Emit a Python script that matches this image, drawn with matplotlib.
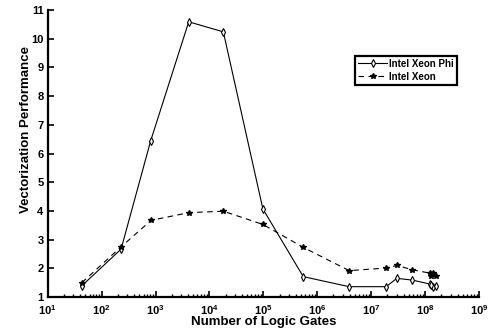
import matplotlib
matplotlib.use("Agg")
import matplotlib.pyplot as plt
from matplotlib.ticker import LogLocator, FixedLocator, NullFormatter

plt.rcParams["font.family"] = ["Liberation Sans", "DejaVu Sans"]
plt.rcParams["font.weight"] = "bold"
plt.rcParams["mathtext.fontset"] = "custom"
plt.rcParams["mathtext.rm"] = "Liberation Sans:bold"
plt.rcParams["mathtext.bf"] = "Liberation Sans:bold"
plt.rcParams["mathtext.default"] = "bf"

# Intel Xeon Phi
phi_gates = [43, 230, 815, 4130, 18100, 98000, 550000, 3.9e6, 1.89e7, 2.99e7,
             5.8e7, 1.24e8, 1.41e8, 1.3e8, 1.62e8]
phi_perf = [1.39, 2.67, 6.45, 10.59, 10.24, 4.07, 1.71, 1.36, 1.36, 1.65,
            1.59, 1.45, 1.35, 1.42, 1.38]

# Intel Xeon
xeon_gates = [43, 230, 826, 4130, 18100, 98000, 550000, 3.9e6, 1.89e7, 2.99e7,
              5.8e7, 1.24e8, 1.41e8, 1.3e8, 1.62e8]
xeon_perf = [1.50, 2.75, 3.67, 3.94, 3.99, 3.53, 2.73, 1.92, 2.01, 2.10,
             1.95, 1.83, 1.84, 1.73, 1.73]

x_ticks = [10.0 ** k for k in range(1, 10)]
y_ticks = list(range(1, 12))


def main():
    fig = plt.figure(figsize=(4.9, 3.35), dpi=100)
    ax = fig.add_axes([0.0973, 0.1134, 0.8803, 0.8566])

    ax.plot(phi_gates, phi_perf, "-", color="black", linewidth=0.8,
            marker="d", markersize=4.2, markerfacecolor="white",
            markeredgecolor="black", markeredgewidth=0.8, label="Intel Xeon Phi")
    ax.plot(xeon_gates, xeon_perf, "--", color="black", linewidth=0.8,
            marker="*", markersize=4, markerfacecolor="black",
            markeredgecolor="black", label="Intel Xeon", dashes=(5, 4))

    ax.set_xscale("log")
    ax.set_xlim(10, 1e9)
    ax.set_ylim(1, 11)
    ax.xaxis.set_major_locator(FixedLocator(x_ticks))
    ax.set_xticklabels([r"$\mathbf{10^{%d}}$" % k for k in range(1, 10)])
    ax.xaxis.set_minor_locator(LogLocator(base=10, subs=range(2, 10), numticks=20))
    ax.xaxis.set_minor_formatter(NullFormatter())
    ax.set_yticks(y_ticks)

    for side in ["top", "right"]:
        ax.spines[side].set_visible(False)
    for side in ["left", "bottom"]:
        ax.spines[side].set_linewidth(1.6)

    ax.tick_params(axis="both", which="major", direction="in", length=4,
                   width=1.2, labelsize=8, pad=3)
    ax.tick_params(axis="x", which="major", pad=4.5)
    ax.tick_params(axis="x", which="minor", direction="in", length=2.5, width=1.0)

    ax.set_xlabel("Number of Logic Gates", fontsize=9.5, fontweight="bold", labelpad=-1)
    ax.set_ylabel("Vectorization Performance", fontsize=9.5, fontweight="bold")
    ax.yaxis.set_label_coords(-0.036, 0.585)

    leg = ax.legend(loc="upper left", bbox_to_anchor=(0.7125, 0.84), fontsize=7,
                    fancybox=False, framealpha=1, edgecolor="black",
                    handlelength=3.0, handletextpad=0.2, borderpad=0.3,
                    labelspacing=0.3, borderaxespad=0)
    leg.get_frame().set_linewidth(1.6)

    fig.savefig("out.png", dpi=100)
    plt.close(fig)


if __name__ == "__main__":
    main()
